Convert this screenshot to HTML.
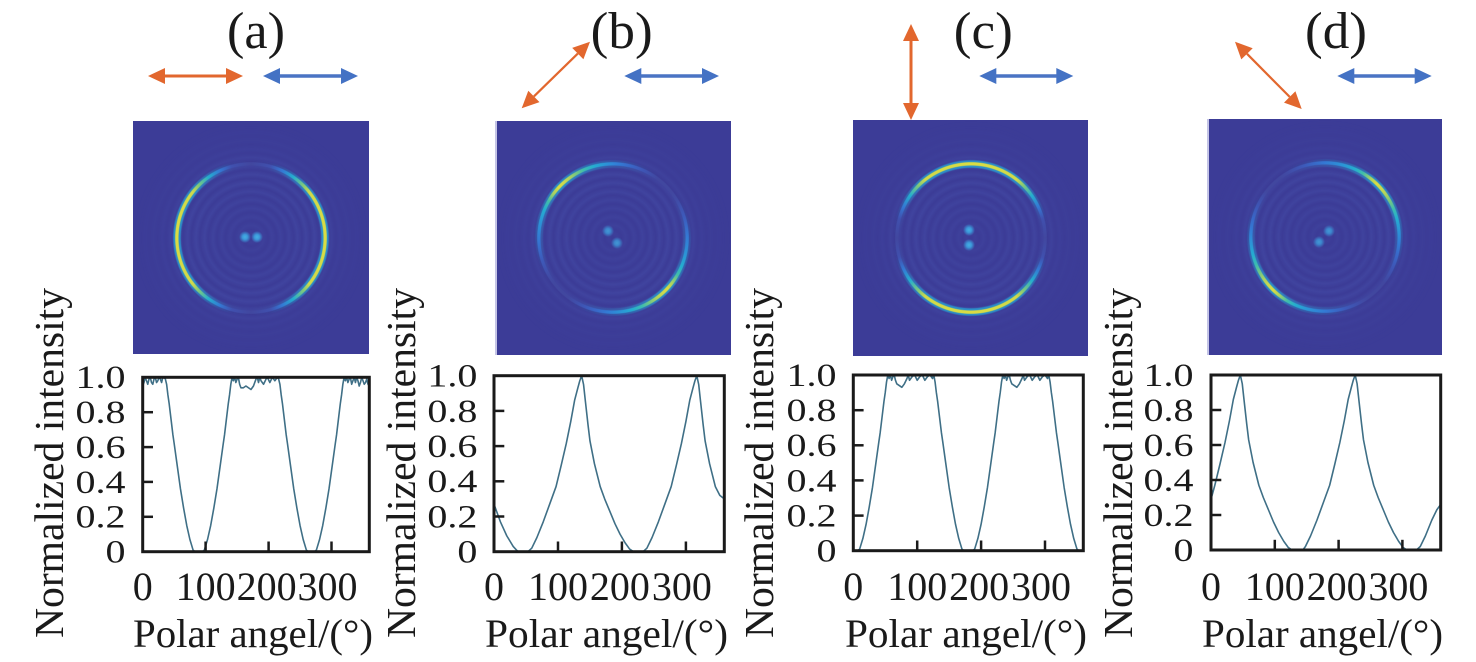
<!DOCTYPE html>
<html>
<head>
<meta charset="utf-8">
<style>
html,body{margin:0;padding:0;background:#fff;}
body{width:1476px;height:662px;overflow:hidden;position:relative;font-family:"Liberation Serif","Noto Serif CJK SC","DejaVu Serif",serif;}
svg text{font-family:"Liberation Serif","Noto Serif CJK SC","DejaVu Serif",serif;}
.im{position:absolute;background:#3c3c97;overflow:hidden;}
.rip{position:absolute;left:50%;top:50%;width:260px;height:260px;margin:-130px 0 0 -130px;border-radius:50%;
 background:repeating-radial-gradient(circle, rgba(95,125,215,0) 0px, rgba(95,125,215,.13) 4px, rgba(95,125,215,0) 8.5px);
 -webkit-mask-image:radial-gradient(circle, rgba(0,0,0,.4) 0px, #000 55px, #000 70px, rgba(0,0,0,.3) 92px, transparent 120px);
 mask-image:radial-gradient(circle, rgba(0,0,0,.4) 0px, #000 55px, #000 70px, rgba(0,0,0,.3) 92px, transparent 120px);}
.ly{position:absolute;left:50%;top:50%;width:170px;height:170px;margin:-85px 0 0 -85px;border-radius:50%;}
.halo{-webkit-mask-image:radial-gradient(circle, transparent 69.5px, #000 71px, #000 77px, transparent 78.5px);
 mask-image:radial-gradient(circle, transparent 69.5px, #000 71px, #000 77px, transparent 78.5px);}
.core{-webkit-mask-image:radial-gradient(circle, transparent 72px, #000 73px, #000 75.3px, transparent 76.3px);
 mask-image:radial-gradient(circle, transparent 72px, #000 73px, #000 75.3px, transparent 76.3px);}
.sp{position:absolute;width:14px;height:14px;margin:-7px 0 0 -7px;border-radius:50%;
 background:radial-gradient(circle, #46aee2 0px, #3c98da 2.5px, rgba(60,60,151,0) 6px);}
.edge{position:absolute;left:0;top:0;width:2px;height:100%;background:#c4c4e6;}
svg{position:absolute;left:0;top:0;}
</style>
</head>
<body>

<!-- Image (a) -->
<div class="im" style="left:133px;top:121px;width:236px;height:233px;">
 <div class="rip"></div>
 <div class="ly halo" style="background:conic-gradient(rgba(38,170,215,0) 0deg, rgba(38,170,215,.04) 15deg, rgba(38,170,215,.19) 25deg, rgba(38,170,215,.38) 35deg, rgba(38,170,215,.57) 45deg, rgba(38,170,215,.71) 52deg, rgba(38,170,215,.75) 90deg, rgba(38,170,215,.71) 128deg, rgba(38,170,215,.57) 135deg, rgba(38,170,215,.38) 145deg, rgba(38,170,215,.19) 155deg, rgba(38,170,215,.04) 165deg, rgba(38,170,215,0) 180deg, rgba(38,170,215,.04) 195deg, rgba(38,170,215,.19) 205deg, rgba(38,170,215,.38) 215deg, rgba(38,170,215,.57) 225deg, rgba(38,170,215,.71) 232deg, rgba(38,170,215,.75) 270deg, rgba(38,170,215,.71) 308deg, rgba(38,170,215,.57) 315deg, rgba(38,170,215,.38) 325deg, rgba(38,170,215,.19) 335deg, rgba(38,170,215,.04) 345deg, rgba(38,170,215,0) 360deg);"></div>
 <div class="ly core" style="background:conic-gradient(#41479f 0deg, #4050ae 15deg, #3479d4 25deg, #25aece 35deg, #80ca7a 45deg, #d0da4a 52deg, #dadc42 90deg, #d0da4a 128deg, #80ca7a 135deg, #25aece 145deg, #3479d4 155deg, #4050ae 165deg, #41479f 180deg, #4050ae 195deg, #3479d4 205deg, #25aece 215deg, #80ca7a 225deg, #d0da4a 232deg, #dadc42 270deg, #d0da4a 308deg, #80ca7a 315deg, #25aece 325deg, #3479d4 335deg, #4050ae 345deg, #41479f 360deg);"></div>
 <div class="sp" style="left:112px;top:116.3px;"></div>
 <div class="sp" style="left:124.3px;top:116.3px;"></div>
</div>

<!-- Image (b) -->
<div class="im" style="left:495px;top:121px;width:236px;height:234px;">
 <div class="rip"></div>
 <div class="ly halo" style="background:conic-gradient(rgba(38,170,215,.225) 0deg, rgba(38,170,215,.2) 3deg, rgba(38,170,215,.13) 13deg, rgba(38,170,215,.06) 23deg, rgba(38,170,215,0) 37deg, rgba(38,170,215,0) 52deg, rgba(38,170,215,.01) 58deg, rgba(38,170,215,.075) 73deg, rgba(38,170,215,.19) 89deg, rgba(38,170,215,.28) 104deg, rgba(38,170,215,.375) 113deg, rgba(38,170,215,.47) 120deg, rgba(38,170,215,.64) 127deg, rgba(38,170,215,.75) 133deg, rgba(38,170,215,.7) 139deg, rgba(38,170,215,.645) 144deg, rgba(38,170,215,.555) 150deg, rgba(38,170,215,.46) 157deg, rgba(38,170,215,.37) 165deg, rgba(38,170,215,.28) 173deg, rgba(38,170,215,.2) 183deg, rgba(38,170,215,.13) 193deg, rgba(38,170,215,.06) 203deg, rgba(38,170,215,0) 217deg, rgba(38,170,215,0) 232deg, rgba(38,170,215,.01) 238deg, rgba(38,170,215,.075) 253deg, rgba(38,170,215,.19) 269deg, rgba(38,170,215,.28) 284deg, rgba(38,170,215,.375) 293deg, rgba(38,170,215,.47) 300deg, rgba(38,170,215,.64) 307deg, rgba(38,170,215,.75) 313deg, rgba(38,170,215,.7) 319deg, rgba(38,170,215,.645) 324deg, rgba(38,170,215,.555) 330deg, rgba(38,170,215,.46) 337deg, rgba(38,170,215,.37) 345deg, rgba(38,170,215,.28) 353deg, rgba(38,170,215,.225) 360deg);"></div>
 <div class="ly core" style="background:conic-gradient(#3086d8 0deg, #327ed6 3deg, #3968c8 13deg, #3e56b6 23deg, #41479f 37deg, #41479f 52deg, #414aa4 58deg, #3d5aba 73deg, #3479d4 89deg, #2b97d6 104deg, #25aece 113deg, #44bea8 120deg, #a8d262 127deg, #dadc42 133deg, #c8d950 139deg, #acd360 144deg, #76c882 150deg, #3cbcb0 157deg, #25acd0 165deg, #2b97d6 173deg, #327ed6 183deg, #3968c8 193deg, #3e56b6 203deg, #41479f 217deg, #41479f 232deg, #414aa4 238deg, #3d5aba 253deg, #3479d4 269deg, #2b97d6 284deg, #25aece 293deg, #44bea8 300deg, #a8d262 307deg, #dadc42 313deg, #c8d950 319deg, #acd360 324deg, #76c882 330deg, #3cbcb0 337deg, #25acd0 345deg, #2b97d6 353deg, #3086d8 360deg);"></div>
 <div class="sp" style="left:112.7px;top:110px;opacity:.8;"></div>
 <div class="sp" style="left:121.7px;top:121.7px;opacity:.8;"></div>
 <div class="edge"></div>
</div>

<!-- Image (c) -->
<div class="im" style="left:853px;top:120px;width:235px;height:236px;">
 <div class="rip"></div>
 <div class="ly halo" style="background:conic-gradient(from 90deg, rgba(38,170,215,0) 0deg, rgba(38,170,215,.04) 15deg, rgba(38,170,215,.19) 25deg, rgba(38,170,215,.38) 35deg, rgba(38,170,215,.57) 45deg, rgba(38,170,215,.71) 52deg, rgba(38,170,215,.75) 90deg, rgba(38,170,215,.71) 128deg, rgba(38,170,215,.57) 135deg, rgba(38,170,215,.38) 145deg, rgba(38,170,215,.19) 155deg, rgba(38,170,215,.04) 165deg, rgba(38,170,215,0) 180deg, rgba(38,170,215,.04) 195deg, rgba(38,170,215,.19) 205deg, rgba(38,170,215,.38) 215deg, rgba(38,170,215,.57) 225deg, rgba(38,170,215,.71) 232deg, rgba(38,170,215,.75) 270deg, rgba(38,170,215,.71) 308deg, rgba(38,170,215,.57) 315deg, rgba(38,170,215,.38) 325deg, rgba(38,170,215,.19) 335deg, rgba(38,170,215,.04) 345deg, rgba(38,170,215,0) 360deg);"></div>
 <div class="ly core" style="background:conic-gradient(from 90deg, #41479f 0deg, #4050ae 15deg, #3479d4 25deg, #25aece 35deg, #80ca7a 45deg, #d0da4a 52deg, #dadc42 90deg, #d0da4a 128deg, #80ca7a 135deg, #25aece 145deg, #3479d4 155deg, #4050ae 165deg, #41479f 180deg, #4050ae 195deg, #3479d4 205deg, #25aece 215deg, #80ca7a 225deg, #d0da4a 232deg, #dadc42 270deg, #d0da4a 308deg, #80ca7a 315deg, #25aece 325deg, #3479d4 335deg, #4050ae 345deg, #41479f 360deg);"></div>
 <div class="sp" style="left:116.3px;top:110px;"></div>
 <div class="sp" style="left:116.3px;top:125px;"></div>
</div>

<!-- Image (d) -->
<div class="im" style="left:1207px;top:119px;width:235px;height:236px;">
 <div class="rip"></div>
 <div class="ly halo" style="background:conic-gradient(rgba(38,170,215,.19) 0deg, rgba(38,170,215,.28) 15deg, rgba(38,170,215,.375) 24deg, rgba(38,170,215,.47) 31deg, rgba(38,170,215,.64) 38deg, rgba(38,170,215,.75) 44deg, rgba(38,170,215,.7) 50deg, rgba(38,170,215,.645) 55deg, rgba(38,170,215,.555) 61deg, rgba(38,170,215,.46) 68deg, rgba(38,170,215,.37) 76deg, rgba(38,170,215,.28) 84deg, rgba(38,170,215,.2) 94deg, rgba(38,170,215,.13) 104deg, rgba(38,170,215,.06) 114deg, rgba(38,170,215,0) 128deg, rgba(38,170,215,0) 143deg, rgba(38,170,215,.01) 149deg, rgba(38,170,215,.075) 164deg, rgba(38,170,215,.19) 180deg, rgba(38,170,215,.28) 195deg, rgba(38,170,215,.375) 204deg, rgba(38,170,215,.47) 211deg, rgba(38,170,215,.64) 218deg, rgba(38,170,215,.75) 224deg, rgba(38,170,215,.7) 230deg, rgba(38,170,215,.645) 235deg, rgba(38,170,215,.555) 241deg, rgba(38,170,215,.46) 248deg, rgba(38,170,215,.37) 256deg, rgba(38,170,215,.28) 264deg, rgba(38,170,215,.2) 274deg, rgba(38,170,215,.13) 284deg, rgba(38,170,215,.06) 294deg, rgba(38,170,215,0) 308deg, rgba(38,170,215,0) 323deg, rgba(38,170,215,.01) 329deg, rgba(38,170,215,.075) 344deg, rgba(38,170,215,.19) 360deg);"></div>
 <div class="ly core" style="background:conic-gradient(#3479d4 0deg, #2b97d6 15deg, #25aece 24deg, #44bea8 31deg, #a8d262 38deg, #dadc42 44deg, #c8d950 50deg, #acd360 55deg, #76c882 61deg, #3cbcb0 68deg, #25acd0 76deg, #2b97d6 84deg, #327ed6 94deg, #3968c8 104deg, #3e56b6 114deg, #41479f 128deg, #41479f 143deg, #414aa4 149deg, #3d5aba 164deg, #3479d4 180deg, #2b97d6 195deg, #25aece 204deg, #44bea8 211deg, #a8d262 218deg, #dadc42 224deg, #c8d950 230deg, #acd360 235deg, #76c882 241deg, #3cbcb0 248deg, #25acd0 256deg, #2b97d6 264deg, #327ed6 274deg, #3968c8 284deg, #3e56b6 294deg, #41479f 308deg, #41479f 323deg, #414aa4 329deg, #3d5aba 344deg, #3479d4 360deg);"></div>
 <div class="sp" style="left:121.7px;top:112px;opacity:.8;"></div>
 <div class="sp" style="left:111.7px;top:122.7px;opacity:.8;"></div>
 <div class="edge"></div>
</div>

<svg width="1476" height="662" viewBox="0 0 1476 662" xmlns="http://www.w3.org/2000/svg" fill="#1a1a1a">
 <!-- Titles -->
 <g font-size="52" text-anchor="middle">
  <text x="256" y="48" textLength="58" lengthAdjust="spacingAndGlyphs">(a)</text>
  <text x="621.7" y="48" textLength="62" lengthAdjust="spacingAndGlyphs">(b)</text>
  <text x="983.3" y="48" textLength="59" lengthAdjust="spacingAndGlyphs">(c)</text>
  <text x="1336" y="48" textLength="62" lengthAdjust="spacingAndGlyphs">(d)</text>
 </g>

 <!-- Arrows -->
 <g fill="#e2672e" stroke="none">
  <polygon points="148,76 165,68 165,84"/><polygon points="243,76 226,68 226,84"/>
  <polygon points="590,41.7 583.4,59.3 572.2,47.9"/><polygon points="521.7,108.3 539.5,102.1 528.3,90.7"/>
  <polygon points="911,24 903,41 919,41"/><polygon points="911,120 903,103 919,103"/>
  <polygon points="1301.7,109 1284,102.6 1295.4,91.3"/><polygon points="1235,41.7 1241.3,59.4 1252.7,48.2"/>
 </g>
 <g stroke="#e2672e" fill="none">
  <line x1="164" y1="76" x2="227" y2="76" stroke-width="3"/>
  <line x1="533.9" y1="96.4" x2="577.8" y2="53.6" stroke-width="2.2"/>
  <line x1="911" y1="40" x2="911" y2="104" stroke-width="3"/>
  <line x1="1247" y1="53.8" x2="1289.7" y2="96.9" stroke-width="2.2"/>
 </g>
 <g fill="#4472c4" stroke="none">
  <polygon points="263,76 280,68 280,84"/><polygon points="358,76 341,68 341,84"/>
  <polygon points="624.3,76 641.3,68 641.3,84"/><polygon points="719,76 702,68 702,84"/>
  <polygon points="979.3,76 996.3,68 996.3,84"/><polygon points="1073.3,76 1056.3,68 1056.3,84"/>
  <polygon points="1337.3,76 1354.3,68 1354.3,84"/><polygon points="1431.7,76 1414.7,68 1414.7,84"/>
 </g>
 <g stroke="#4a74c4" stroke-width="3.5" fill="none">
  <line x1="279" y1="76" x2="342" y2="76"/>
  <line x1="640.3" y1="76" x2="703" y2="76"/>
  <line x1="995.3" y1="76" x2="1057.3" y2="76"/>
  <line x1="1353.3" y1="76" x2="1415.7" y2="76"/>
 </g>

 <!-- Curves -->
 <g fill="none" stroke="#3f6f86" stroke-width="1.6" stroke-linejoin="round">
  <path vector-effect="non-scaling-stroke" transform="translate(142.7,551.7) scale(0.6294,-1.744)" d="M0,95 L2,97 4,100 6,98 8,96 10,99 12,100 14,97 16,96 18,99 20,100 22,97 24,98 26,100 28,99 30,97 32,100 34,100 36,99 38,96 40,90 42,85 45,76 48,67 50,62 55,49 60,36 65,25 70,15 75,7 80,1 83,0 95,0 98,1 103,7 108,15 113,25 118,36 123,49 128,62 130,67 133,76 136,85 138,90 140,96 142,100 144,98 146,100 148,97 150,99 152,100 154,96 156,94 160,94 164,95 168,94 172,93 176,95 180,99 182,100 184,97 186,100 188,98 192,96 196,99 198,100 202,97 206,100 210,98 214,100 216,99 218,96 220,90 222,85 225,76 228,67 230,62 235,49 240,36 245,25 250,15 255,7 260,1 263,0 273,0 276,1 281,7 286,15 291,25 296,36 301,49 306,62 308,67 311,76 314,85 316,90 318,96 320,100 322,98 324,100 326,97 328,99 330,100 332,96 334,98 336,100 338,97 340,100 342,98 344,95 346,97 348,100 350,98 352,96 354,97 356,99 358,96 360,95"/>
  <path vector-effect="non-scaling-stroke" transform="translate(494,551.7) scale(0.6397,-1.76)" d="M0,27 L5,22 10,17 15,13 20,9 25,6 30,3 35,1 38,0 53,0 59,2 67,8 77,17 87,27 97,37 105,49 113,61.5 120,74 126,86 131,93 134,97 137,100 140,95 143,85 147,72 150,63 157,50 166,37 173,30 181,23 189,16 197,10 205,5 212,1.5 218,0 233,0 239,2 247,8 257,17 267,27 277,37 285,49 293,61.5 300,74 306,86 311,93 314,97 317,100 320,95 323,85 327,72 330,63 337,50 346,37 353,32 360,30"/>
  <path vector-effect="non-scaling-stroke" transform="translate(853.3,550.7) scale(0.6389,-1.757)" d="M0,0 L7,0 10,1 15,7 20,15 25,25 30,36 35,49 40,62 42,67 45,76 48,85 50,90 52,96 54,100 56,98 58,100 60,97 62,99 64,100 66,97 68,95 72,94 76,93 80,95 84,98 86,100 88,97 92,99 96,100 100,97 104,99 108,100 112,97 116,99 120,100 124,98 126,100 128,96 130,90 132,85 135,76 138,67 140,62 145,49 150,36 155,25 160,15 165,7 170,1 173,0 187,0 190,1 195,7 200,15 205,25 210,36 215,49 220,62 222,67 225,76 228,85 230,90 232,96 234,100 236,98 238,100 240,97 242,99 244,100 246,97 248,95 252,94 256,93 260,95 264,98 266,100 268,97 272,99 276,100 280,97 284,99 288,100 292,97 296,99 300,100 304,98 306,100 308,96 310,90 312,85 315,76 318,67 320,62 325,49 330,36 335,25 340,15 345,7 350,1 353,0 360,0"/>
  <path vector-effect="non-scaling-stroke" transform="translate(1211,550) scale(0.638,-1.75)" d="M0,29 L6,37 14,49 22,61.5 29,74 35,86 40,93 43,97 46,100 49,95 52,85 56,72 59,63 66,50 75,37 82,30 90,23 98,16 106,10 114,5 121,1.5 127,0 144,0 148,2 156,8 166,17 176,27 186,37 194,49 202,61.5 209,74 215,86 220,93 223,97 226,100 229,95 232,85 236,72 239,63 246,50 255,37 262,30 270,23 278,16 286,10 294,5 301,1.5 307,0 322,0 328,2 336,8 346,17 354,23 360,26"/>
 </g>

 <!-- Frames and ticks -->
 <g fill="none" stroke="#1a1a1a" stroke-width="3">
  <rect x="142.7" y="377.3" width="226.6" height="174.4"/>
  <rect x="494" y="375.7" width="230.3" height="176"/>
  <rect x="853.3" y="375" width="230" height="175.7"/>
  <rect x="1211" y="375" width="229.7" height="175"/>
 </g>
 <g stroke="#1a1a1a" stroke-width="2.5">
  <line x1="142.7" y1="516.8" x2="153" y2="516.8"/><line x1="142.7" y1="481.9" x2="153" y2="481.9"/><line x1="142.7" y1="447.1" x2="153" y2="447.1"/><line x1="142.7" y1="412.2" x2="153" y2="412.2"/>
  <line x1="205.6" y1="551.7" x2="205.6" y2="541.5"/><line x1="268.6" y1="551.7" x2="268.6" y2="541.5"/><line x1="331.5" y1="551.7" x2="331.5" y2="541.5"/>

  <line x1="494" y1="516.5" x2="504.3" y2="516.5"/><line x1="494" y1="481.3" x2="504.3" y2="481.3"/><line x1="494" y1="446.1" x2="504.3" y2="446.1"/><line x1="494" y1="410.9" x2="504.3" y2="410.9"/>
  <line x1="558" y1="551.7" x2="558" y2="541.5"/><line x1="621.9" y1="551.7" x2="621.9" y2="541.5"/><line x1="685.9" y1="551.7" x2="685.9" y2="541.5"/>

  <line x1="853.3" y1="515.6" x2="863.6" y2="515.6"/><line x1="853.3" y1="480.4" x2="863.6" y2="480.4"/><line x1="853.3" y1="445.3" x2="863.6" y2="445.3"/><line x1="853.3" y1="410.2" x2="863.6" y2="410.2"/>
  <line x1="917.2" y1="550.7" x2="917.2" y2="540.5"/><line x1="981.1" y1="550.7" x2="981.1" y2="540.5"/><line x1="1045" y1="550.7" x2="1045" y2="540.5"/>

  <line x1="1211" y1="515" x2="1221.3" y2="515"/><line x1="1211" y1="480" x2="1221.3" y2="480"/><line x1="1211" y1="445" x2="1221.3" y2="445"/><line x1="1211" y1="410" x2="1221.3" y2="410"/>
  <line x1="1274.8" y1="550" x2="1274.8" y2="539.8"/><line x1="1338.6" y1="550" x2="1338.6" y2="539.8"/><line x1="1402.4" y1="550" x2="1402.4" y2="539.8"/>
 </g>

 <!-- Y tick labels (vertically compressed) -->
 <g font-size="40" text-anchor="end" lengthAdjust="spacingAndGlyphs">
  <text transform="translate(125.5,562.6) scale(1,0.81)" textLength="20" lengthAdjust="spacingAndGlyphs">0</text>
  <text transform="translate(125.5,527.7) scale(1,0.81)" textLength="50" lengthAdjust="spacingAndGlyphs">0.2</text>
  <text transform="translate(125.5,492.8) scale(1,0.81)" textLength="50" lengthAdjust="spacingAndGlyphs">0.4</text>
  <text transform="translate(125.5,458) scale(1,0.81)" textLength="50" lengthAdjust="spacingAndGlyphs">0.6</text>
  <text transform="translate(125.5,423.1) scale(1,0.81)" textLength="50" lengthAdjust="spacingAndGlyphs">0.8</text>
  <text transform="translate(125.5,388.2) scale(1,0.81)" textLength="50" lengthAdjust="spacingAndGlyphs">1.0</text>

  <text transform="translate(477.3,562.6) scale(1,0.81)" textLength="20" lengthAdjust="spacingAndGlyphs">0</text>
  <text transform="translate(477.3,527.4) scale(1,0.81)" textLength="50" lengthAdjust="spacingAndGlyphs">0.2</text>
  <text transform="translate(477.3,492.2) scale(1,0.81)" textLength="50" lengthAdjust="spacingAndGlyphs">0.4</text>
  <text transform="translate(477.3,457) scale(1,0.81)" textLength="50" lengthAdjust="spacingAndGlyphs">0.6</text>
  <text transform="translate(477.3,421.8) scale(1,0.81)" textLength="50" lengthAdjust="spacingAndGlyphs">0.8</text>
  <text transform="translate(477.3,386.6) scale(1,0.81)" textLength="50" lengthAdjust="spacingAndGlyphs">1.0</text>

  <text transform="translate(836.5,561.6) scale(1,0.81)" textLength="20" lengthAdjust="spacingAndGlyphs">0</text>
  <text transform="translate(836.5,526.5) scale(1,0.81)" textLength="50" lengthAdjust="spacingAndGlyphs">0.2</text>
  <text transform="translate(836.5,491.3) scale(1,0.81)" textLength="50" lengthAdjust="spacingAndGlyphs">0.4</text>
  <text transform="translate(836.5,456.2) scale(1,0.81)" textLength="50" lengthAdjust="spacingAndGlyphs">0.6</text>
  <text transform="translate(836.5,421.1) scale(1,0.81)" textLength="50" lengthAdjust="spacingAndGlyphs">0.8</text>
  <text transform="translate(836.5,385.9) scale(1,0.81)" textLength="50" lengthAdjust="spacingAndGlyphs">1.0</text>

  <text transform="translate(1193.5,560.9) scale(1,0.81)" textLength="20" lengthAdjust="spacingAndGlyphs">0</text>
  <text transform="translate(1193.5,525.9) scale(1,0.81)" textLength="50" lengthAdjust="spacingAndGlyphs">0.2</text>
  <text transform="translate(1193.5,490.9) scale(1,0.81)" textLength="50" lengthAdjust="spacingAndGlyphs">0.4</text>
  <text transform="translate(1193.5,455.9) scale(1,0.81)" textLength="50" lengthAdjust="spacingAndGlyphs">0.6</text>
  <text transform="translate(1193.5,420.9) scale(1,0.81)" textLength="50" lengthAdjust="spacingAndGlyphs">0.8</text>
  <text transform="translate(1193.5,385.9) scale(1,0.81)" textLength="50" lengthAdjust="spacingAndGlyphs">1.0</text>
 </g>

 <!-- X tick labels -->
 <g font-size="40" text-anchor="middle">
  <text x="142.7" y="600" textLength="20" lengthAdjust="spacingAndGlyphs">0</text><text x="205.6" y="600" textLength="60" lengthAdjust="spacingAndGlyphs">100</text><text x="266.6" y="600" textLength="60" lengthAdjust="spacingAndGlyphs">200</text><text x="327.5" y="600" textLength="60" lengthAdjust="spacingAndGlyphs">300</text>
  <text x="494" y="600" textLength="20" lengthAdjust="spacingAndGlyphs">0</text><text x="558" y="600" textLength="60" lengthAdjust="spacingAndGlyphs">100</text><text x="619.9" y="600" textLength="60" lengthAdjust="spacingAndGlyphs">200</text><text x="681.9" y="600" textLength="60" lengthAdjust="spacingAndGlyphs">300</text>
  <text x="853.3" y="600" textLength="20" lengthAdjust="spacingAndGlyphs">0</text><text x="917.2" y="600" textLength="60" lengthAdjust="spacingAndGlyphs">100</text><text x="979.1" y="600" textLength="60" lengthAdjust="spacingAndGlyphs">200</text><text x="1041" y="600" textLength="60" lengthAdjust="spacingAndGlyphs">300</text>
  <text x="1211" y="600" textLength="20" lengthAdjust="spacingAndGlyphs">0</text><text x="1274.8" y="600" textLength="60" lengthAdjust="spacingAndGlyphs">100</text><text x="1336.6" y="600" textLength="60" lengthAdjust="spacingAndGlyphs">200</text><text x="1398.4" y="600" textLength="60" lengthAdjust="spacingAndGlyphs">300</text>
 </g>

 <!-- X axis titles -->
 <g font-size="40">
  <text x="133" y="647" textLength="240" lengthAdjust="spacingAndGlyphs">Polar angel/(°)</text>
  <text x="485" y="647" textLength="243" lengthAdjust="spacingAndGlyphs">Polar angel/(°)</text>
  <text x="845" y="647" textLength="242" lengthAdjust="spacingAndGlyphs">Polar angel/(°)</text>
  <text x="1202" y="647" textLength="241" lengthAdjust="spacingAndGlyphs">Polar angel/(°)</text>
 </g>

 <!-- Y axis titles -->
 <g font-size="41">
  <text transform="translate(63,638) rotate(-90)" textLength="350" lengthAdjust="spacingAndGlyphs">Normalized intensity</text>
  <text transform="translate(415,638) rotate(-90)" textLength="350" lengthAdjust="spacingAndGlyphs">Normalized intensity</text>
  <text transform="translate(773,638) rotate(-90)" textLength="350" lengthAdjust="spacingAndGlyphs">Normalized intensity</text>
  <text transform="translate(1132,638) rotate(-90)" textLength="350" lengthAdjust="spacingAndGlyphs">Normalized intensity</text>
 </g>
</svg>
</body>
</html>
